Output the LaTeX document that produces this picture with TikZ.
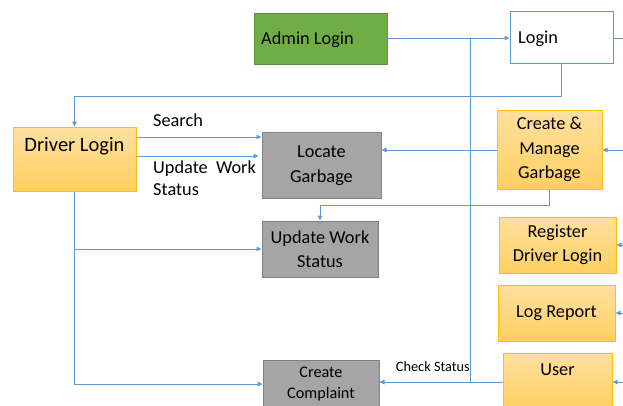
\documentclass[tikz,border=0pt]{standalone}
\usepackage{fontspec}
\setmainfont{Carlito}
\usetikzlibrary{arrows.meta}
\definecolor{lineblue}{HTML}{5B9BD5}
\definecolor{admgreen}{HTML}{70AD47}
\definecolor{ortop}{HTML}{FFE0A0}
\definecolor{orbot}{HTML}{FFCF60}
\definecolor{oredge}{HTML}{FFC000}
\definecolor{grayfill}{HTML}{A5A5A5}
\definecolor{grayedge}{HTML}{808080}
\tikzset{
  flow/.style={draw=lineblue, line width=1pt},
  arr/.style={flow, -{Triangle[length=5pt,width=4.5pt]}},
  basebox/.style={inner sep=0pt, align=center, font=\fontsize{18.3}{24.5}\selectfont},
  orangebox/.style={basebox, draw=oredge, line width=1pt, top color=ortop, bottom color=orbot},
  graybox/.style={basebox, draw=grayedge, line width=1pt, fill=grayfill},
  lbl/.style={inner sep=0pt, font=\fontsize{18.3}{21.5}\selectfont, align=left},
  boxtxt/.style={inner sep=0pt, font=\fontsize{18.3}{22}\selectfont},
}
\begin{document}
\begin{tikzpicture}[x=1pt, y=-1pt]
\useasboundingbox (0,0) rectangle (623,405);

% boxes
\node[basebox, fill=admgreen, draw=admgreen!85!black, line width=0.6pt,
      minimum width=133, minimum height=51] (adm) at (320.5,38.5) {};
\node[boxtxt, anchor=west] (admtxt) at (261,39.5) {Admin Login};

\node[basebox, draw=lineblue, line width=1pt, fill=white,
      minimum width=103, minimum height=52] (login) at (561.5,37) {};
\node[boxtxt, anchor=west] (logintxt) at (518,38.5) {Login};

\node[orangebox, minimum width=123, minimum height=64] (drv) at (74.5,159) {};
\node[anchor=north, inner sep=0pt, font=\fontsize{20.5}{24}\selectfont] (drvtxt) at (74.5,137) {Driver Login};

\node[graybox, minimum width=119, minimum height=66] (loc) at (321.5,165.5) {Locate\\Garbage};
\node[orangebox, minimum width=105, minimum height=79] (cmg) at (549.5,149.5) {Create \&\\Manage\\Garbage};
\node[graybox, minimum width=116, minimum height=56] (upd) at (320,249) {Update Work\\Status};
\node[orangebox, minimum width=117, minimum height=56] (reg) at (557.5,245) {Register\\Driver Login};
\node[orangebox, minimum width=117, minimum height=56] (log) at (556.5,313) {Log Report};
\node[orangebox, minimum width=109, minimum height=56] (user) at (557.5,381) {};
\node[boxtxt, anchor=north] (usertxt) at (557.5,364) {User};
\node[graybox, font=\fontsize{16.2}{21.5}\selectfont, minimum width=116, minimum height=48] (cc) at (321,384) {Create\\Complaint};

% labels
\node[lbl, anchor=base west] (search) at (153,126) {Search};
\node[lbl, anchor=north west] (updlbl) at (153,161) {Update\hspace{0.45em}Work\\Status};
\node[inner sep=0pt, anchor=base east, font=\fontsize{14.3}{16}\selectfont] (chk) at (470,371) {Check Status};

% free ends off the right edge
\coordinate (r1) at (623,38);
\coordinate (r2) at (623,150);
\coordinate (r3) at (623,245);
\coordinate (r4) at (623,313);
\coordinate (r5) at (623,382);
\coordinate (j1) at (470,38);
\coordinate (j2) at (470,382);
\coordinate (h1) at (0,96);
\coordinate (h2) at (0,205);
\coordinate (s1) at (0,137);
\coordinate (s2) at (0,156);
\coordinate (s3) at (0,249);

% admin login to login, and status line down to complaints
\draw[arr] (adm.east |- j1) -- (login.west |- j1);
\draw[flow] (j1) -- (j2);
\draw[flow] (login.east |- r1) -- (r1);

% login to driver login
\draw[arr] (login.south) -- (login.south |- h1) -- (drv.north |- h1) -- (drv.north);

% driver login to tasks
\draw[arr] (drv.east |- s1) -- (loc.west |- s1);
\draw[arr] (drv.east |- s2) -- ([xshift=-3pt]loc.west |- s2);
\draw[arr] (drv.south) -- (drv.south |- cc.west) -- (cc.west);
\draw[arr] (drv.south |- s3) -- (upd.west |- s3);

% create & manage garbage
\draw[arr] (cmg.west |- r2) -- (loc.east |- r2);
\draw[arr] (r2) -- (cmg.east |- r2);
\draw[arr] (cmg.south) -- (cmg.south |- h2) -- (upd.north |- h2) -- (upd.north);

% incoming arrows on the right
\draw[arr] (r3) -- (reg.east |- r3);
\draw[arr] (r4) -- (log.east |- r4);
\draw[arr] (r5) -- (user.east |- r5);

% user check status
\draw[arr] (user.west |- r5) -- (cc.east |- r5);
\end{tikzpicture}
\end{document}
